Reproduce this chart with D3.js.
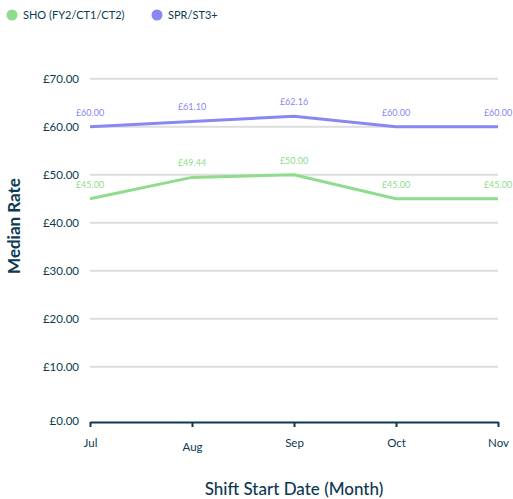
<!DOCTYPE html>
<html>
<head>
<meta charset="utf-8">
<script src="https://cdn.jsdelivr.net/npm/d3@7"></script>
<style>
  body { margin: 0; background: #fff; }
  text { font-family: Lato, "Open Sans", sans-serif; }
</style>
</head>
<body>
<script>
const months = ["Jul", "Aug", "Sep", "Oct", "Nov"];
const shoValues = [45.00, 49.44, 50.00, 45.00, 45.00];
const sprValues = [60.00, 61.10, 62.16, 60.00, 60.00];
const yTicks = [0, 10, 20, 30, 40, 50, 60, 70];

const series = [
  {name: "SHO (FY2/CT1/CT2)", values: shoValues, color: "#8fdc8c"},
  {name: "SPR/ST3+", values: sprValues, color: "#8788f2"}
];

const width = 513, height = 499;
const dark = "#0d3a52";

const svg = d3.select("body").append("svg")
    .attr("width", width)
    .attr("height", height);

const x = d3.scalePoint()
    .domain(months)
    .range([90, 498]);

const y = d3.scaleLinear()
    .domain([0, 70])
    .range([414.7, 78.7]);

const fmt = d => "£" + d3.format(".2f")(d);

// gridlines
svg.append("g")
  .selectAll("line")
  .data(yTicks.filter(d => d > 0))
  .join("line")
    .attr("x1", 90)
    .attr("x2", 498)
    .attr("y1", d => y(d))
    .attr("y2", d => y(d))
    .attr("stroke", "#dddddd")
    .attr("stroke-width", 2);

// y tick labels
svg.append("g")
  .selectAll("text")
  .data(yTicks)
  .join("text")
    .attr("x", 79)
    .attr("y", d => d === 0 ? 421 : y(d))
    .attr("dy", "0.35em")
    .attr("text-anchor", "end")
    .attr("font-size", 11.5)
    .attr("fill", dark)
    .text(fmt);

// x axis
const xAxis = svg.append("g")
    .attr("transform", "translate(0,422)")
    .call(d3.axisBottom(x).tickSize(5).tickSizeOuter(0).tickPadding(12));
xAxis.select(".domain").attr("stroke", dark).attr("stroke-width", 2);
xAxis.selectAll(".tick line").attr("stroke", dark).attr("stroke-width", 2);
xAxis.selectAll(".tick text")
    .attr("fill", dark)
    .attr("font-size", 11.5)
    .attr("font-family", "Lato, sans-serif")
    .attr("dy", d => d === "Aug" ? "1.0em" : "0.71em");

// lines
const line = d3.line()
    .x((d, i) => x(months[i]))
    .y(d => y(d));

const g = svg.append("g")
  .selectAll("g")
  .data(series)
  .join("g");

g.append("path")
    .attr("fill", "none")
    .attr("stroke", d => d.color)
    .attr("stroke-width", 3)
    .attr("d", d => line(d.values));

g.selectAll("text")
  .data(d => d.values.map((v, i) => ({v, i, color: d.color})))
  .join("text")
    .attr("x", d => x(months[d.i]))
    .attr("y", d => y(d.v) - 11)
    .attr("text-anchor", "middle")
    .attr("font-size", 9)
    .attr("fill", d => d.color)
    .text(d => fmt(d.v));

// legend
const legend = svg.append("g")
  .selectAll("g")
  .data(series)
  .join("g")
    .attr("transform", (d, i) => `translate(${i === 0 ? 12 : 157},15)`);
legend.append("circle")
    .attr("r", 5.5)
    .attr("fill", d => d.color);
legend.append("text")
    .attr("x", 11)
    .attr("dy", "0.35em")
    .attr("font-size", 11)
    .attr("fill", dark)
    .text(d => d.name);

// axis titles
svg.append("text")
    .attr("x", 294)
    .attr("y", 489)
    .attr("dy", "0.35em")
    .attr("text-anchor", "middle")
    .attr("font-size", 17)
    .attr("font-weight", 500)
    .attr("fill", dark)
    .text("Shift Start Date (Month)");

svg.append("text")
    .attr("transform", "translate(14,226) rotate(-90)")
    .attr("dy", "0.35em")
    .attr("text-anchor", "middle")
    .attr("font-size", 17)
    .attr("font-weight", 700)
    .attr("fill", dark)
    .text("Median Rate");
</script>
</body>
</html>
